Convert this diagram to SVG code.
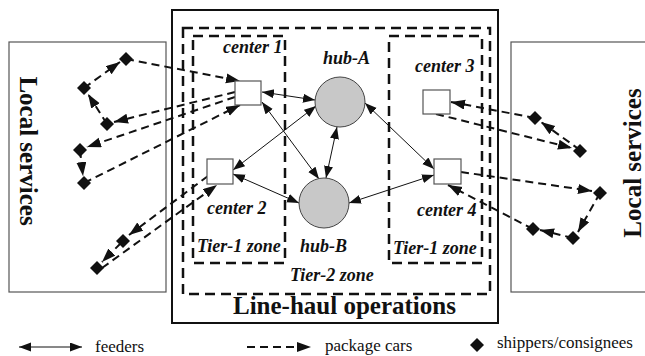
<svg xmlns="http://www.w3.org/2000/svg" width="645" height="356" viewBox="0 0 645 356">
<style>
.box{fill:none;stroke:#555;stroke-width:1.2}
.main{fill:none;stroke:#111;stroke-width:2}
.zone{fill:none;stroke:#111;stroke-width:2.5;stroke-dasharray:10 6}
.feed{fill:none;stroke:#111;stroke-width:1;marker-start:url(#fa);marker-end:url(#fa)}
.car{fill:none;stroke:#111;stroke-width:2;stroke-dasharray:8 5;marker-end:url(#ca)}
.ctr{fill:#fff;stroke:#555;stroke-width:1.2}
.hub{fill:#c8c8c8;stroke:#444;stroke-width:1}
.lbl{font-family:"Liberation Serif",serif;font-weight:bold;font-style:italic;font-size:18px;fill:#111}
.big{font-family:"Liberation Serif",serif;font-weight:bold;font-size:25px;fill:#111}
.leg{font-family:"Liberation Serif",serif;font-size:17px;fill:#111}
.dia{fill:#111}
</style>
<defs>
<marker id="fa" markerUnits="userSpaceOnUse" markerWidth="14" markerHeight="12" refX="12" refY="4.5" orient="auto-start-reverse"><path d="M0,0 L12,4.5 L0,9 Z" fill="#111"/></marker>
<marker id="ca" markerUnits="userSpaceOnUse" markerWidth="16" markerHeight="12" refX="14" refY="5" orient="auto"><path d="M0,0 L14,5 L0,10 Z" fill="#111"/></marker>
<polygon id="d" points="0,-7 7,0 0,7 -7,0"/>
</defs>

<g id="local-left"><rect class="box" x="9" y="42" width="157" height="250"/>
<text class="big" transform="translate(20,151) rotate(90)" text-anchor="middle">Local services</text></g>
<g id="local-right"><rect class="box" x="511" y="42" width="140" height="250"/>
<text class="big" transform="translate(641,163) rotate(-90)" text-anchor="middle">Local services</text></g>

<g id="line-haul"><rect class="main" x="172" y="10" width="326" height="313"/>
<text class="big" x="233" y="314">Line-haul operations</text></g>
<g id="tier2"><rect class="zone" x="183" y="28" width="307" height="266"/>
<text class="lbl" x="290" y="281">Tier-2 zone</text></g>
<g id="tier1-left"><rect class="zone" x="193" y="36" width="92" height="227"/>
<text class="lbl" x="197" y="252">Tier-1 zone</text></g>
<g id="tier1-right"><rect class="zone" x="389" y="36" width="93" height="227"/>
<text class="lbl" x="393" y="254">Tier-1 zone</text></g>

<g id="connectors">
<line class="feed" x1="262" y1="92" x2="315" y2="100"/>
<line class="feed" x1="262" y1="102" x2="319" y2="179"/>
<line class="feed" x1="316" y1="106" x2="233" y2="170"/>
<line class="feed" x1="337" y1="127" x2="326" y2="178"/>
<line class="feed" x1="233" y1="174" x2="299" y2="203"/>
<line class="feed" x1="365" y1="103" x2="434" y2="169"/>
<line class="feed" x1="349" y1="203" x2="434" y2="175"/>

<line class="car" x1="126" y1="59" x2="240" y2="81"/>
<line class="car" x1="235" y1="92" x2="114" y2="122"/>
<line class="car" x1="235" y1="97" x2="87" y2="147"/>
<line class="car" x1="84" y1="183" x2="240" y2="105"/>
<line class="car" x1="107" y1="124" x2="88" y2="94"/>
<line class="car" x1="84" y1="88" x2="120" y2="62"/>
<line class="car" x1="80" y1="150" x2="83" y2="176"/>
<line class="car" x1="208" y1="176" x2="129" y2="235"/>
<line class="car" x1="121" y1="243" x2="102" y2="262"/>
<line class="car" x1="102" y1="268" x2="217" y2="185"/>

<line class="car" x1="436" y1="114" x2="572" y2="148"/>
<line class="car" x1="580" y1="150" x2="541" y2="122"/>
<line class="car" x1="535" y1="118" x2="451" y2="102"/>
<line class="car" x1="461" y1="172" x2="592" y2="191"/>
<line class="car" x1="600" y1="193" x2="578" y2="232"/>
<line class="car" x1="573" y1="238" x2="540" y2="230"/>
<line class="car" x1="533" y1="229" x2="448" y2="185"/>
</g>

<g id="center1"><rect class="ctr" x="235" y="81" width="26" height="24"/><text class="lbl" x="223" y="53">center 1</text></g>
<g id="center2"><rect class="ctr" x="207" y="159" width="26" height="25"/><text class="lbl" x="207" y="214">center 2</text></g>
<g id="center3"><rect class="ctr" x="423" y="90" width="27" height="24"/><text class="lbl" x="415" y="72">center 3</text></g>
<g id="center4"><rect class="ctr" x="434" y="159" width="27" height="25"/><text class="lbl" x="417" y="216">center 4</text></g>
<g id="hub-A"><circle class="hub" cx="340" cy="102" r="25"/><text class="lbl" x="323" y="64">hub-A</text></g>
<g id="hub-B"><circle class="hub" cx="324" cy="203" r="25"/><text class="lbl" x="300" y="252">hub-B</text></g>

<g id="shippers">
<use href="#d" class="dia" x="126" y="59"/>
<use href="#d" class="dia" x="84" y="88"/>
<use href="#d" class="dia" x="107" y="124"/>
<use href="#d" class="dia" x="80" y="150"/>
<use href="#d" class="dia" x="84" y="183"/>
<use href="#d" class="dia" x="123" y="241"/>
<use href="#d" class="dia" x="97" y="268"/>
<use href="#d" class="dia" x="535" y="118"/>
<use href="#d" class="dia" x="580" y="151"/>
<use href="#d" class="dia" x="600" y="193"/>
<use href="#d" class="dia" x="573" y="238"/>
<use href="#d" class="dia" x="533" y="229"/>
</g>

<g id="legend">
<line class="feed" x1="19" y1="347" x2="82" y2="347"/>
<text class="leg" x="95" y="352">feeders</text>
<line class="car" x1="247" y1="347" x2="311" y2="347"/>
<text class="leg" x="325" y="351">package cars</text>
<use href="#d" class="dia" x="477" y="345"/>
<text class="leg" x="497" y="348">shippers/consignees</text>
</g>
</svg>
